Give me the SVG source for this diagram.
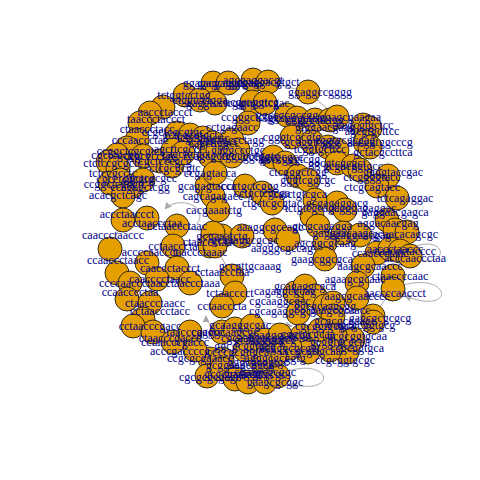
<svg xmlns="http://www.w3.org/2000/svg" width="480" height="480" viewBox="0 0 480 480">
<style>
.n circle{fill:#E69F00;stroke:#1a1a1a;stroke-width:0.9}
.lab text{font-family:"Liberation Serif",serif;font-size:12px;fill:#00008B;text-anchor:middle}
.e{stroke:#A9A9A9;fill:none;stroke-width:1}
</style>
<defs>
<marker id="ah" viewBox="0 0 10 10" refX="9" refY="5" markerWidth="7" markerHeight="7" orient="auto"><path d="M0,0L10,5L0,10z" fill="#A9A9A9"/></marker>
</defs>
<rect width="480" height="480" fill="#fff"/>
<g id="edges">
<polyline class="e" points="213,83 228,83 253,80 268,82 308,92 337,117 363,125 370,128 365,142 370,147 360,170 388,176 397,198 387,220 395,230 407,232 410,256 393,276 393,289 373,316 353,339 347,352 330,350 308,352 290,348 278,376 265,382 248,382 235,379 222,369 207,376 210,359 195,350 173,342 153,332 133,326 143,319 127,299 117,273 110,249 123,220 123,196 110,183 108,162 117,155 127,148 137,140 140,123 150,113 163,107 185,95 200,100 213,83"/>
<polyline class="e" points="177,133 190,135 203,138 213,143 232,140 248,123 287,115 297,118 315,120 330,120"/>
<polyline class="e" points="215,173 245,186 262,193 272,203 275,230 288,239 325,243 325,259"/>
<polyline class="e" points="147,218 177,226 213,233 215,246 232,276 235,293 222,306"/>
<polyline class="e" points="285,163 298,176 308,180 315,200 312,216 318,226 343,233 360,235"/>
<path class="e" d="M258,322 L292,326" marker-end="url(#ah)"/>
<path class="e" d="M410,248 C448,232 452,270 413,259" marker-end="url(#ah)"/>
<path class="e" d="M403,285 C452,272 456,316 405,296" marker-end="url(#ah)"/>
<path class="e" d="M288,371 C332,358 338,396 290,384" marker-end="url(#ah)"/>
<path class="e" d="M197,224 C210,204 176,196 165,209" marker-end="url(#ah)"/>
<path class="e" d="M224,306 C240,326 206,334 206,316" marker-end="url(#ah)"/>
</g>
<g id="nodes">
<g id="v1" class="n"><circle cx="213" cy="83" r="12"/></g>
<g id="v2" class="n"><circle cx="228" cy="83" r="12"/></g>
<g id="v3" class="n"><circle cx="253" cy="80" r="12"/></g>
<g id="v4" class="n"><circle cx="268" cy="82" r="12"/></g>
<g id="v5" class="n"><circle cx="308" cy="92" r="12"/></g>
<g id="v6" class="n"><circle cx="185" cy="95" r="12"/></g>
<g id="v7" class="n"><circle cx="200" cy="100" r="12"/></g>
<g id="v8" class="n"><circle cx="215" cy="103" r="12"/></g>
<g id="v9" class="n"><circle cx="252" cy="102" r="12"/></g>
<g id="v10" class="n"><circle cx="265" cy="103" r="12"/></g>
<g id="v11" class="n"><circle cx="163" cy="107" r="12"/></g>
<g id="v12" class="n"><circle cx="150" cy="113" r="12"/></g>
<g id="v13" class="n"><circle cx="140" cy="123" r="12"/></g>
<g id="v14" class="n"><circle cx="137" cy="140" r="12"/></g>
<g id="v15" class="n"><circle cx="127" cy="148" r="12"/></g>
<g id="v16" class="n"><circle cx="117" cy="155" r="12"/></g>
<g id="v17" class="n"><circle cx="108" cy="162" r="12"/></g>
<g id="v18" class="n"><circle cx="118" cy="168" r="12"/></g>
<g id="v19" class="n"><circle cx="110" cy="183" r="12"/></g>
<g id="v20" class="n"><circle cx="120" cy="180" r="12"/></g>
<g id="v21" class="n"><circle cx="133" cy="186" r="12"/></g>
<g id="v22" class="n"><circle cx="123" cy="196" r="12"/></g>
<g id="v23" class="n"><circle cx="143" cy="156" r="12"/></g>
<g id="v24" class="n"><circle cx="160" cy="161" r="12"/></g>
<g id="v25" class="n"><circle cx="172" cy="166" r="12"/></g>
<g id="v26" class="n"><circle cx="143" cy="180" r="12"/></g>
<g id="v27" class="n"><circle cx="177" cy="133" r="12"/></g>
<g id="v28" class="n"><circle cx="190" cy="135" r="12"/></g>
<g id="v29" class="n"><circle cx="203" cy="138" r="12"/></g>
<g id="v30" class="n"><circle cx="213" cy="143" r="12"/></g>
<g id="v31" class="n"><circle cx="173" cy="150" r="12"/></g>
<g id="v32" class="n"><circle cx="183" cy="153" r="12"/></g>
<g id="v33" class="n"><circle cx="210" cy="156" r="12"/></g>
<g id="v34" class="n"><circle cx="207" cy="186" r="12"/></g>
<g id="v35" class="n"><circle cx="213" cy="196" r="12"/></g>
<g id="v36" class="n"><circle cx="232" cy="140" r="12"/></g>
<g id="v37" class="n"><circle cx="218" cy="150" r="12"/></g>
<g id="v38" class="n"><circle cx="238" cy="150" r="12"/></g>
<g id="v39" class="n"><circle cx="248" cy="123" r="12"/></g>
<g id="v40" class="n"><circle cx="287" cy="115" r="12"/></g>
<g id="v41" class="n"><circle cx="297" cy="118" r="12"/></g>
<g id="v42" class="n"><circle cx="315" cy="120" r="12"/></g>
<g id="v43" class="n"><circle cx="330" cy="120" r="12"/></g>
<g id="v44" class="n"><circle cx="292" cy="137" r="12"/></g>
<g id="v45" class="n"><circle cx="312" cy="142" r="12"/></g>
<g id="v46" class="n"><circle cx="328" cy="147" r="12"/></g>
<g id="v47" class="n"><circle cx="273" cy="157" r="12"/></g>
<g id="v48" class="n"><circle cx="337" cy="117" r="12"/></g>
<g id="v49" class="n"><circle cx="363" cy="125" r="12"/></g>
<g id="v50" class="n"><circle cx="370" cy="128" r="12"/></g>
<g id="v51" class="n"><circle cx="365" cy="142" r="12"/></g>
<g id="v52" class="n"><circle cx="370" cy="147" r="12"/></g>
<g id="v53" class="n"><circle cx="337" cy="150" r="12"/></g>
<g id="v54" class="n"><circle cx="337" cy="163" r="12"/></g>
<g id="v55" class="n"><circle cx="353" cy="166" r="12"/></g>
<g id="v56" class="n"><circle cx="360" cy="170" r="12"/></g>
<g id="v57" class="n"><circle cx="388" cy="176" r="12"/></g>
<g id="v58" class="n"><circle cx="377" cy="186" r="12"/></g>
<g id="v59" class="n"><circle cx="397" cy="198" r="12"/></g>
<g id="v60" class="n"><circle cx="337" cy="203" r="12"/></g>
<g id="v61" class="n"><circle cx="345" cy="210" r="12"/></g>
<g id="v62" class="n"><circle cx="387" cy="220" r="12"/></g>
<g id="v63" class="n"><circle cx="395" cy="230" r="12"/></g>
<g id="v64" class="n"><circle cx="407" cy="232" r="12"/></g>
<g id="v65" class="n"><circle cx="343" cy="233" r="12"/></g>
<g id="v66" class="n"><circle cx="360" cy="235" r="12"/></g>
<g id="v67" class="n"><circle cx="232" cy="156" r="12"/></g>
<g id="v68" class="n"><circle cx="285" cy="163" r="12"/></g>
<g id="v69" class="n"><circle cx="298" cy="176" r="12"/></g>
<g id="v70" class="n"><circle cx="308" cy="180" r="12"/></g>
<g id="v71" class="n"><circle cx="215" cy="173" r="12"/></g>
<g id="v72" class="n"><circle cx="245" cy="186" r="12"/></g>
<g id="v73" class="n"><circle cx="262" cy="193" r="12"/></g>
<g id="v74" class="n"><circle cx="272" cy="203" r="12"/></g>
<g id="v75" class="n"><circle cx="218" cy="210" r="12"/></g>
<g id="v76" class="n"><circle cx="315" cy="200" r="12"/></g>
<g id="v77" class="n"><circle cx="312" cy="216" r="12"/></g>
<g id="v78" class="n"><circle cx="318" cy="226" r="12"/></g>
<g id="v79" class="n"><circle cx="275" cy="230" r="12"/></g>
<g id="v80" class="n"><circle cx="222" cy="236" r="12"/></g>
<g id="v81" class="n"><circle cx="123" cy="220" r="12"/></g>
<g id="v82" class="n"><circle cx="147" cy="218" r="12"/></g>
<g id="v83" class="n"><circle cx="177" cy="226" r="12"/></g>
<g id="v84" class="n"><circle cx="213" cy="233" r="12"/></g>
<g id="v85" class="n"><circle cx="110" cy="249" r="12"/></g>
<g id="v86" class="n"><circle cx="147" cy="263" r="12"/></g>
<g id="v87" class="n"><circle cx="173" cy="246" r="12"/></g>
<g id="v88" class="n"><circle cx="177" cy="268" r="12"/></g>
<g id="v89" class="n"><circle cx="117" cy="273" r="12"/></g>
<g id="v90" class="n"><circle cx="130" cy="283" r="12"/></g>
<g id="v91" class="n"><circle cx="157" cy="279" r="12"/></g>
<g id="v92" class="n"><circle cx="190" cy="283" r="12"/></g>
<g id="v93" class="n"><circle cx="127" cy="299" r="12"/></g>
<g id="v94" class="n"><circle cx="150" cy="303" r="12"/></g>
<g id="v95" class="n"><circle cx="210" cy="246" r="12"/></g>
<g id="v96" class="n"><circle cx="143" cy="319" r="12"/></g>
<g id="v97" class="n"><circle cx="215" cy="246" r="12"/></g>
<g id="v98" class="n"><circle cx="242" cy="236" r="12"/></g>
<g id="v99" class="n"><circle cx="288" cy="239" r="12"/></g>
<g id="v100" class="n"><circle cx="325" cy="243" r="12"/></g>
<g id="v101" class="n"><circle cx="325" cy="259" r="12"/></g>
<g id="v102" class="n"><circle cx="232" cy="276" r="12"/></g>
<g id="v103" class="n"><circle cx="235" cy="293" r="12"/></g>
<g id="v104" class="n"><circle cx="222" cy="306" r="12"/></g>
<g id="v105" class="n"><circle cx="295" cy="293" r="12"/></g>
<g id="v106" class="n"><circle cx="305" cy="286" r="12"/></g>
<g id="v107" class="n"><circle cx="315" cy="296" r="12"/></g>
<g id="v108" class="n"><circle cx="298" cy="313" r="12"/></g>
<g id="v109" class="n"><circle cx="325" cy="306" r="12"/></g>
<g id="v110" class="n"><circle cx="377" cy="253" r="12"/></g>
<g id="v111" class="n"><circle cx="390" cy="249" r="12"/></g>
<g id="v112" class="n"><circle cx="400" cy="251" r="12"/></g>
<g id="v113" class="n"><circle cx="410" cy="256" r="12"/></g>
<g id="v114" class="n"><circle cx="363" cy="266" r="12"/></g>
<g id="v115" class="n"><circle cx="393" cy="276" r="12"/></g>
<g id="v116" class="n"><circle cx="393" cy="289" r="12"/></g>
<g id="v117" class="n"><circle cx="357" cy="283" r="12"/></g>
<g id="v118" class="n"><circle cx="357" cy="298" r="12"/></g>
<g id="v119" class="n"><circle cx="333" cy="303" r="12"/></g>
<g id="v120" class="n"><circle cx="373" cy="316" r="12"/></g>
<g id="v121" class="n"><circle cx="333" cy="316" r="12"/></g>
<g id="v122" class="n"><circle cx="133" cy="326" r="12"/></g>
<g id="v123" class="n"><circle cx="153" cy="332" r="12"/></g>
<g id="v124" class="n"><circle cx="173" cy="342" r="12"/></g>
<g id="v125" class="n"><circle cx="190" cy="332" r="12"/></g>
<g id="v126" class="n"><circle cx="210" cy="359" r="12"/></g>
<g id="v127" class="n"><circle cx="207" cy="376" r="12"/></g>
<g id="v128" class="n"><circle cx="222" cy="332" r="12"/></g>
<g id="v129" class="n"><circle cx="235" cy="329" r="12"/></g>
<g id="v130" class="n"><circle cx="252" cy="326" r="12"/></g>
<g id="v131" class="n"><circle cx="302" cy="336" r="12"/></g>
<g id="v132" class="n"><circle cx="308" cy="352" r="12"/></g>
<g id="v133" class="n"><circle cx="222" cy="359" r="12"/></g>
<g id="v134" class="n"><circle cx="222" cy="369" r="12"/></g>
<g id="v135" class="n"><circle cx="235" cy="379" r="12"/></g>
<g id="v136" class="n"><circle cx="248" cy="382" r="12"/></g>
<g id="v137" class="n"><circle cx="265" cy="382" r="12"/></g>
<g id="v138" class="n"><circle cx="278" cy="376" r="12"/></g>
<g id="v139" class="n"><circle cx="347" cy="352" r="12"/></g>
<g id="v140" class="n"><circle cx="353" cy="339" r="12"/></g>
<g id="v141" class="n"><circle cx="373" cy="322" r="12"/></g>
<g id="v142" class="n"><circle cx="265" cy="340" r="12"/></g>
<g id="v143" class="n"><circle cx="280" cy="335" r="12"/></g>
<g id="v144" class="n"><circle cx="290" cy="348" r="12"/></g>
<g id="v145" class="n"><circle cx="275" cy="355" r="12"/></g>
<g id="v146" class="n"><circle cx="260" cy="360" r="12"/></g>
<g id="v147" class="n"><circle cx="245" cy="350" r="12"/></g>
<g id="v148" class="n"><circle cx="320" cy="330" r="12"/></g>
<g id="v149" class="n"><circle cx="335" cy="335" r="12"/></g>
<g id="v150" class="n"><circle cx="330" cy="350" r="12"/></g>
<g id="v151" class="n"><circle cx="195" cy="350" r="12"/></g>
</g>
<g id="labels" class="lab">
<text id="v1-l" x="213" y="87">ggagagcaggt</text>
<text id="v2-l" x="228" y="87">gacgaggcgaa</text>
<text id="v3-l" x="253" y="84">agcgaggacgt</text>
<text id="v4-l" x="268" y="86">cgaggacgtgct</text>
<text id="v5-l" x="320" y="96">ggaggccgggg</text>
<text id="v6-l" x="184" y="99">tctggtcctgg</text>
<text id="v7-l" x="200" y="104">ctggtcctgga</text>
<text id="v8-l" x="215" y="107">gaggtcctcgg</text>
<text id="v9-l" x="252" y="106">acgaaggtcg</text>
<text id="v10-l" x="265" y="107">gtgcttcgac</text>
<text id="v11-l" x="165" y="116">aaccctaccct</text>
<text id="v12-l" x="156" y="123">taaccctaccct</text>
<text id="v13-l" x="147" y="133">ctaaccctacc</text>
<text id="v14-l" x="140" y="144">cccaaccctac</text>
<text id="v15-l" x="128" y="155">ccggctcgcgtc</text>
<text id="v16-l" x="117" y="159">cgctcgcgtc</text>
<text id="v17-l" x="113" y="167">ctctccgcgctc</text>
<text id="v18-l" x="113" y="177">tctccgcctc</text>
<text id="v19-l" x="115" y="188">ccggctcgcgtc</text>
<text id="v20-l" x="125" y="183">cgcctcgcgtg</text>
<text id="v21-l" x="140" y="191">ccagcgctcgg</text>
<text id="v22-l" x="118" y="199">acacgctcagc</text>
<text id="v23-l" x="150" y="160">ccgcccctgc</text>
<text id="v24-l" x="165" y="165">cgctcccgcg</text>
<text id="v25-l" x="175" y="172">ctcgcgcgtc</text>
<text id="v26-l" x="150" y="182">ggctcgcgcc</text>
<text id="v27-l" x="173" y="136">ccgctcgcgtgc</text>
<text id="v28-l" x="190" y="139">gctcgcgtgct</text>
<text id="v29-l" x="203" y="142">tcgcgtgcttc</text>
<text id="v30-l" x="213" y="147">cagcttggct</text>
<text id="v31-l" x="178" y="153">agcttcgcct</text>
<text id="v32-l" x="186" y="158">cagcttcgct</text>
<text id="v33-l" x="210" y="160">ccagcgctgg</text>
<text id="v34-l" x="207" y="190">gcagagtacca</text>
<text id="v35-l" x="213" y="200">cagcagagacc</text>
<text id="v36-l" x="232" y="144">ccgagccctagg</text>
<text id="v37-l" x="232" y="131">cctgagaacc</text>
<text id="v38-l" x="238" y="154">gaggccctgc</text>
<text id="v39-l" x="250" y="121">ccgggctctgg</text>
<text id="v40-l" x="287" y="119">ggccgcgccgg</text>
<text id="v41-l" x="297" y="122">gccgggctctc</text>
<text id="v42-l" x="315" y="124">ccgggctctgg</text>
<text id="v43-l" x="325" y="131">gtggaacgaag</text>
<text id="v44-l" x="292" y="141">cgggtcgcgtg</text>
<text id="v45-l" x="312" y="146">gcaggtcggg</text>
<text id="v46-l" x="320" y="153">tcggtgcttcc</text>
<text id="v47-l" x="273" y="161">ggtggcgcgcc</text>
<text id="v48-l" x="350" y="121">ggagcgaagaa</text>
<text id="v49-l" x="365" y="129">cagcgtgctcc</text>
<text id="v50-l" x="372" y="135">agcgtgcttcc</text>
<text id="v51-l" x="380" y="146">aacggtggcccg</text>
<text id="v52-l" x="383" y="156">gctacgccttca</text>
<text id="v53-l" x="345" y="144">cggtgcgcgag</text>
<text id="v54-l" x="337" y="167">ggcgtcgcgct</text>
<text id="v55-l" x="353" y="170">gcgacggtgcc</text>
<text id="v56-l" x="372" y="181">ctcggggtacc</text>
<text id="v57-l" x="393" y="176">ggggtaccgac</text>
<text id="v58-l" x="372" y="191">ctcgcagtacc</text>
<text id="v59-l" x="405" y="202">tctcagaggac</text>
<text id="v60-l" x="337" y="207">gcgagaggacg</text>
<text id="v61-l" x="365" y="212">cgggagaggac</text>
<text id="v62-l" x="395" y="216">gaggaacgagca</text>
<text id="v63-l" x="388" y="227">aggacaacgag</text>
<text id="v64-l" x="405" y="238">gcaacacagcgc</text>
<text id="v65-l" x="343" y="237">gaggaacaagc</text>
<text id="v66-l" x="360" y="239">cgaggaacgag</text>
<text id="v67-l" x="250" y="160">cccgcccggtc</text>
<text id="v68-l" x="290" y="163">gcccgggtcgg</text>
<text id="v69-l" x="298" y="176">ctcgggctcgg</text>
<text id="v70-l" x="308" y="184">gggtcggcgc</text>
<text id="v71-l" x="210" y="177">ccgagtacca</text>
<text id="v72-l" x="250" y="190">ccctgctcggg</text>
<text id="v73-l" x="262" y="197">cctgctcgcga</text>
<text id="v74-l" x="272" y="207">ctgctcgcgtac</text>
<text id="v75-l" x="214" y="214">cacgaaatctg</text>
<text id="v76-l" x="300" y="198">catctgtcgca</text>
<text id="v77-l" x="312" y="212">tctgtcgcaga</text>
<text id="v78-l" x="322" y="230">gtcgcagagga</text>
<text id="v79-l" x="270" y="231">aaaggcgccagc</text>
<text id="v80-l" x="222" y="240">gcgaaatctg</text>
<text id="v81-l" x="127" y="218">accctaaccct</text>
<text id="v82-l" x="152" y="227">acctaaccctaa</text>
<text id="v83-l" x="177" y="230">cctaaccctaac</text>
<text id="v84-l" x="210" y="246">ctaaccctaac</text>
<text id="v85-l" x="113" y="239">caaccctaaccc</text>
<text id="v86-l" x="150" y="256">accccaaccct</text>
<text id="v87-l" x="173" y="250">cctaacccta</text>
<text id="v88-l" x="170" y="272">caaccctaccct</text>
<text id="v89-l" x="118" y="264">ccaaccctaacc</text>
<text id="v90-l" x="130" y="287">ccccaaccctaa</text>
<text id="v91-l" x="160" y="283">caacccctaacc</text>
<text id="v92-l" x="190" y="287">cctaaccctaaa</text>
<text id="v93-l" x="130" y="296">ccaacccctaa</text>
<text id="v94-l" x="155" y="307">ctaaccctaacc</text>
<text id="v95-l" x="200" y="256">taaccctaaac</text>
<text id="v96-l" x="160" y="315">cctaaccctacc</text>
<text id="v97-l" x="222" y="276">cctaaccctaa</text>
<text id="v98-l" x="245" y="244">gcaaaggcgcgc</text>
<text id="v99-l" x="282" y="252">aagggcgccag</text>
<text id="v100-l" x="325" y="247">agcggcgcaag</text>
<text id="v101-l" x="322" y="263">gaagcggcgca</text>
<text id="v102-l" x="250" y="270">gccgttgcaaag</text>
<text id="v103-l" x="230" y="297">tctaacccct</text>
<text id="v104-l" x="222" y="310">cctaacccta</text>
<text id="v105-l" x="285" y="295">cagaggcgcag</text>
<text id="v106-l" x="305" y="290">gcagaggcgca</text>
<text id="v107-l" x="280" y="305">cgcaaggcgcc</text>
<text id="v108-l" x="280" y="315">cgcagaggcgc</text>
<text id="v109-l" x="325" y="310">ggcgcaagcgg</text>
<text id="v110-l" x="380" y="257">ccaaccctaac</text>
<text id="v111-l" x="395" y="253">aaccctaaccc</text>
<text id="v112-l" x="405" y="255">caaccctacccc</text>
<text id="v113-l" x="415" y="262">acccaaccctaa</text>
<text id="v114-l" x="370" y="270">aaagcgcaaccc</text>
<text id="v115-l" x="400" y="280">ctaaccccaac</text>
<text id="v116-l" x="395" y="297">aaccccaaccct</text>
<text id="v117-l" x="355" y="283">agaagcgcaac</text>
<text id="v118-l" x="357" y="300">aagcgcaacccc</text>
<text id="v119-l" x="340" y="314">gaagcgcaacc</text>
<text id="v120-l" x="380" y="322">gagcgcgcgcg</text>
<text id="v121-l" x="345" y="325">gcgcgcgaagc</text>
<text id="v122-l" x="150" y="330">cctaacccgacc</text>
<text id="v123-l" x="170" y="342">ctaacccgaccc</text>
<text id="v124-l" x="175" y="346">cctaacccgaccc</text>
<text id="v125-l" x="195" y="336">taacccgaccc</text>
<text id="v126-l" x="200" y="362">ccgcgcgaaacc</text>
<text id="v127-l" x="210" y="381">cgcgcgcgcgc</text>
<text id="v128-l" x="225" y="336">cagggcaagcgc</text>
<text id="v129-l" x="240" y="329">gcaagggcgac</text>
<text id="v130-l" x="255" y="342">cgcaagggcggc</text>
<text id="v131-l" x="308" y="338">cggtgcgcaa</text>
<text id="v132-l" x="310" y="355">cccgcgttgcaa</text>
<text id="v133-l" x="238" y="356">ccccgcgttgca</text>
<text id="v134-l" x="240" y="369">gcggaagcggcg</text>
<text id="v135-l" x="235" y="378">gcgcgaagcgc</text>
<text id="v136-l" x="255" y="378">gcgaagcgcgc</text>
<text id="v137-l" x="265" y="376">cgaagcgcggc</text>
<text id="v138-l" x="275" y="386">gaagcgcggc</text>
<text id="v139-l" x="357" y="352">ccgcggtgca</text>
<text id="v140-l" x="357" y="340">gcgcggtgcaa</text>
<text id="v141-l" x="365" y="329">agcgcggtgcg</text>
<text id="v142-l" x="265" y="344">gcaagggcgcg</text>
<text id="v143-l" x="280" y="339">caagggcgcgg</text>
<text id="v144-l" x="290" y="352">aagggcgcggt</text>
<text id="v145-l" x="275" y="362">agggcgcggtg</text>
<text id="v146-l" x="258" y="366">gggcgcggtgc</text>
<text id="v147-l" x="245" y="350">ggcgcggtgcg</text>
<text id="v148-l" x="325" y="330">cgcggtgcgca</text>
<text id="v149-l" x="340" y="346">gcggtgcgcaa</text>
<text id="v150-l" x="345" y="364">ccgcggtgcgc</text>
<text id="v151-l" x="180" y="355">acccgaccccg</text>
</g>
</svg>
